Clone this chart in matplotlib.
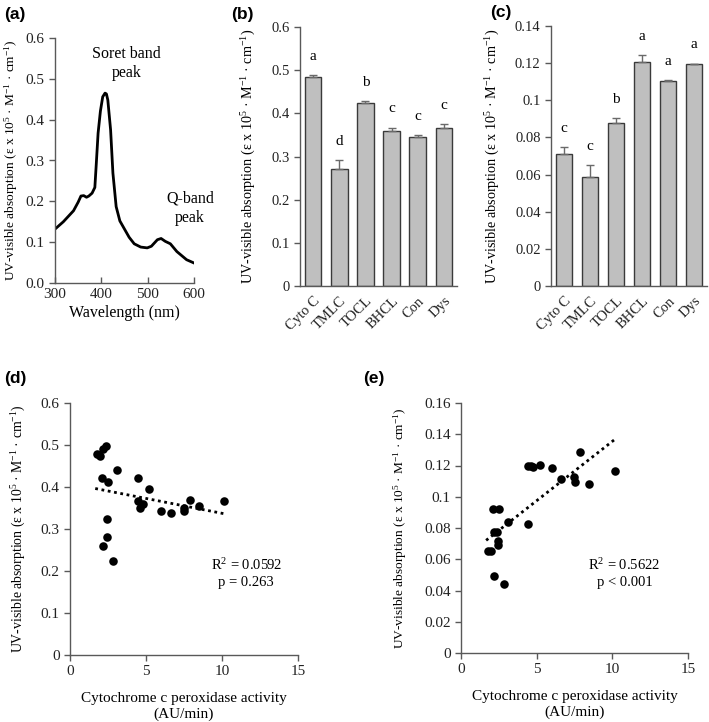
import numpy as np
import matplotlib
matplotlib.use('Agg')
import matplotlib.pyplot as plt

plt.rcParams['font.family'] = 'Liberation Serif'
plt.rcParams['mathtext.fontset'] = 'custom'
plt.rcParams['mathtext.rm'] = 'Liberation Serif'
plt.rcParams['mathtext.it'] = 'Liberation Serif:italic'
plt.rcParams['font.size'] = 10.5

# (a) spectrum
wavelength = [300, 318, 340, 350, 356, 362, 368, 373, 380, 386, 389, 393, 398, 403,
              408, 411, 414, 420, 425, 432, 440, 450, 460, 471, 485, 499, 508, 521,
              529, 538, 549, 563, 584, 600]
absorb = [0.132, 0.150, 0.177, 0.198, 0.213, 0.214, 0.210, 0.213, 0.220, 0.234, 0.290,
          0.367, 0.421, 0.456, 0.465, 0.463, 0.448, 0.375, 0.269, 0.187, 0.152, 0.132,
          0.112, 0.096, 0.088, 0.086, 0.090, 0.106, 0.109, 0.102, 0.096, 0.077, 0.057,
          0.049]

# (b) and (c) bars
groups = ['Cyto C', 'TMLC', 'TOCL', 'BHCL', 'Con', 'Dys']
soret_mean = [0.484, 0.271, 0.424, 0.360, 0.346, 0.367]
soret_err = [0.004, 0.020, 0.005, 0.007, 0.003, 0.009]
soret_letters = ['a', 'd', 'b', 'c', 'c', 'c']
qband_mean = [0.0712, 0.0585, 0.0877, 0.1208, 0.1102, 0.1195]
qband_err = [0.0035, 0.0068, 0.0025, 0.0035, 0.0008, 0.0003]
qband_letters = ['c', 'c', 'b', 'a', 'a', 'a']

# (d) and (e) scatter
activity = [1.76, 1.98, 2.15, 2.37, 2.11, 2.53, 3.08, 4.46, 5.21, 4.46, 4.79, 4.62,
            6.00, 6.64, 7.47, 7.52, 7.87, 8.48, 10.15, 2.46, 2.42, 2.20, 2.81]
soret_abs = [0.478, 0.473, 0.491, 0.497, 0.422, 0.412, 0.441, 0.421, 0.395, 0.366,
             0.360, 0.349, 0.343, 0.338, 0.349, 0.343, 0.368, 0.354, 0.367, 0.323,
             0.281, 0.260, 0.224]
qband_abs = [0.0651, 0.0651, 0.0772, 0.0774, 0.0922, 0.0922, 0.0840, 0.0828, 0.1205,
             0.1200, 0.1190, 0.1195, 0.1184, 0.1116, 0.1124, 0.1094, 0.1284, 0.1084,
             0.1167, 0.0715, 0.0693, 0.0495, 0.0442]

ylab = 'UV-visible absorption (\u03b5 x 10$^{5}$ \u00b7 M$^{-1}$ \u00b7 cm$^{-1}$)'
spine_col = '#595959'

fig = plt.figure(figsize=(7.09, 7.22), dpi=100)


def style(ax):
    for s in ['top', 'right']:
        ax.spines[s].set_visible(False)
    for s in ['left', 'bottom']:
        ax.spines[s].set_color(spine_col)
        ax.spines[s].set_linewidth(1.0)
    ax.tick_params(colors=spine_col, labelcolor='#222222', width=1.0, length=4)


def panel(x, y, lab):
    fig.text(x / 709, 1 - y / 722, lab, family='Liberation Sans', weight='bold',
             fontsize=12.5, ha='left', va='center')


# (a)
ax = fig.add_axes([55 / 709, 1 - 283 / 722, 139 / 709, 245 / 722])
style(ax)
ax.plot(wavelength, absorb, color='black', lw=2)
ax.set_xlim(300, 600)
ax.set_ylim(0, 0.6)
ax.set_xticks([300, 400, 500, 600])
ax.set_yticks(np.arange(0, 0.61, 0.1))
ax.set_yticklabels(['%.1f' % v for v in np.arange(0, 0.61, 0.1)], fontsize=11)
ax.set_xticklabels(['300', '400', '500', '600'], fontsize=11)
ax.tick_params(axis='x', direction='in')
ax.set_xlabel('Wavelength (nm)', fontsize=11.5, labelpad=3)
ax.set_ylabel(ylab, fontsize=9.6)
ax.yaxis.set_label_coords(-0.25, 0.5)
ax.text(455, 0.538, 'Soret band\npeak', ha='center', va='center', fontsize=11.5,
        linespacing=1.25)
ax.text(591, 0.183, 'Q-band\npeak', ha='center', va='center', fontsize=11.5,
        linespacing=1.25, clip_on=False)
panel(4, 14, '(a)')


def bars(rect, means, errs, letters, ymax, step, fmt, off, lx):
    ax = fig.add_axes(rect)
    style(ax)
    xs = np.arange(len(groups))
    ax.bar(xs, means, width=0.64, color='#bfbfbf', edgecolor='#3a3a3a', linewidth=1.0,
           zorder=2)
    ax.errorbar(xs, means, yerr=[np.zeros(len(errs)), errs], fmt='none',
                ecolor='#6a6a6a', elinewidth=1.0, capsize=3, capthick=1.0, zorder=3)
    for i in range(len(groups)):
        ax.text(xs[i], means[i] + errs[i] + off, letters[i], ha='center',
                va='bottom', fontsize=11)
    ax.set_xlim(-0.5, len(groups) - 0.5)
    ax.set_ylim(0, ymax)
    ticks = np.arange(0, ymax + step / 2, step)
    ax.set_yticks(ticks)
    ax.set_yticklabels([fmt(t) for t in ticks], fontsize=10.5)
    ax.set_xticks(xs)
    ax.set_xticklabels(groups, rotation=45, ha='right', rotation_mode='anchor',
                       fontsize=10.5)
    ax.tick_params(axis='x', length=0, pad=6)
    ax.set_ylabel(ylab, fontsize=10.2)
    ax.yaxis.set_label_coords(lx, 0.5)
    return ax


def fmt_b(t):
    return '0' if t == 0 else ('%.1f' % t)


def fmt_c(t):
    if abs(t) < 1e-9:
        return '0'
    s = '%.2f' % t
    return s.rstrip('0') if s.endswith('0') else s


bars([300 / 709, 1 - 286 / 722, 157 / 709, 259 / 722], soret_mean, soret_err,
     soret_letters, 0.6, 0.1, fmt_b, 0.028, -0.27)
panel(231, 14, '(b)')
bars([551 / 709, 1 - 286 / 722, 156 / 709, 260 / 722], qband_mean, qband_err,
     qband_letters, 0.14, 0.02, fmt_c, 0.0065, -0.315)
panel(490, 13, '(c)')


def scatter(rect, ys, ymax, step, fmt, stats, tx, ty, lx, lfs):
    ax = fig.add_axes(rect)
    style(ax)
    ax.scatter(activity, ys, s=38, color='black', zorder=3, linewidths=0)
    k, b = np.polyfit(activity, ys, 1)
    xl = np.array([min(activity) - 0.1, max(activity)])
    ax.plot(xl, k * xl + b, ls=(0, (1, 1.3)), color='black', lw=2)
    ax.set_xlim(0, 15)
    ax.set_ylim(0, ymax)
    ax.set_xticks([0, 5, 10, 15])
    ticks = np.arange(0, ymax + step / 2, step)
    ax.set_yticks(ticks)
    ax.set_yticklabels([fmt(t) for t in ticks], fontsize=11)
    ax.set_xticklabels(['0', '5', '10', '15'], fontsize=11)
    ax.set_xlabel('Cytochrome c peroxidase activity\n(AU/min)', fontsize=11,
                  labelpad=10, linespacing=1.2)
    ax.set_ylabel(ylab, fontsize=lfs)
    ax.yaxis.set_label_coords(lx, 0.5)
    ax.text(tx, ty, stats, ha='center', va='center', fontsize=10.5, linespacing=1.3)
    return ax


scatter([70 / 709, 1 - 655 / 722, 228 / 709, 252 / 722], soret_abs, 0.6, 0.1, fmt_b,
        'R$^2$ = 0.0592\np = 0.263', 11.6, 0.195, -0.185, 9.9)
panel(4, 378, '(d)')
scatter([461 / 709, 1 - 653 / 722, 227 / 709, 250 / 722], qband_abs, 0.16, 0.02, fmt_c,
        'R$^2$ = 0.5622\np < 0.001', 10.8, 0.051, -0.23, 9.6)
panel(363, 378, '(e)')

fig.savefig('out.png', dpi=100)
